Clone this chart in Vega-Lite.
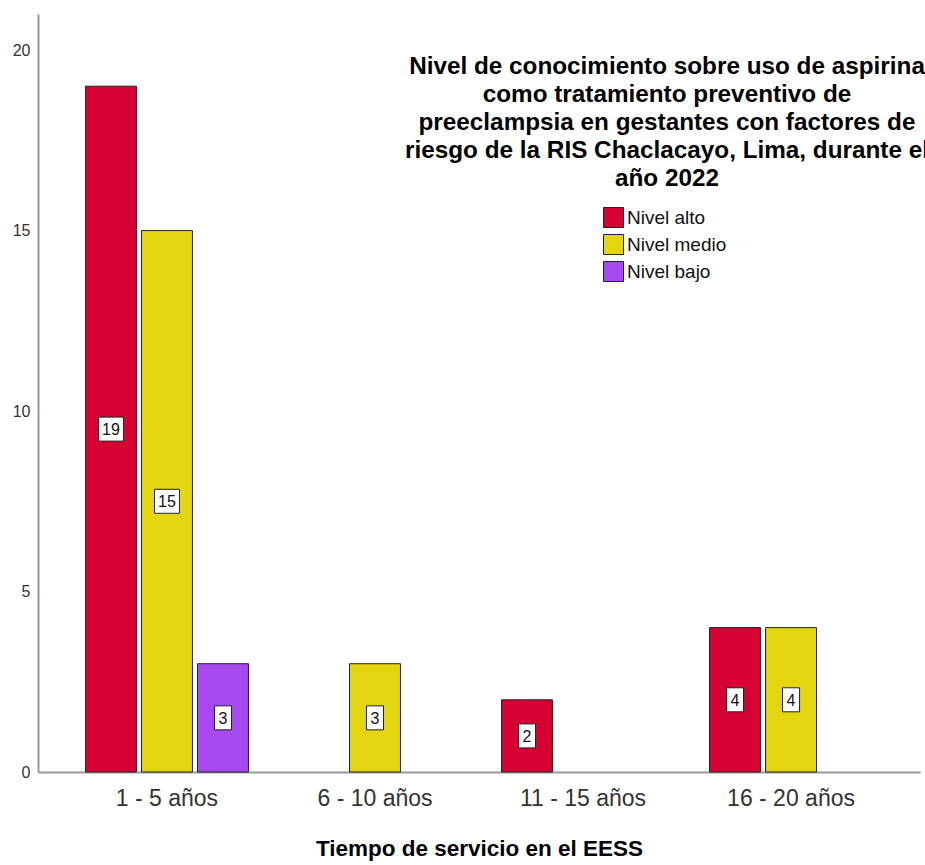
{
  "$schema": "https://vega.github.io/schema/vega-lite/v6.json",
  "autosize": "none",
  "width": 882,
  "height": 758,
  "padding": {"left": 38, "top": 14, "right": 5, "bottom": 93},
  "background": "white",
  "config": {"view": {"stroke": null}, "font": "Liberation Sans"},
  "title": {
    "text": ["Nivel de conocimiento sobre uso de aspirina", "como tratamiento preventivo de", "preeclampsia en gestantes con factores de", "riesgo de la RIS Chaclacayo, Lima, durante el", "año 2022"],
    "frame": "group",
    "anchor": "middle",
    "dx": 188,
    "offset": -177,
    "fontSize": 24.3,
    "fontWeight": "bold",
    "font": "Liberation Sans",
    "color": "black",
    "lineHeight": 28
  },
  "data": {
    "values": [
      {"tiempo": "1 - 5 años", "nivel": "Nivel alto", "n": 19},
      {"tiempo": "1 - 5 años", "nivel": "Nivel medio", "n": 15},
      {"tiempo": "1 - 5 años", "nivel": "Nivel bajo", "n": 3},
      {"tiempo": "6 - 10 años", "nivel": "Nivel medio", "n": 3},
      {"tiempo": "11 - 15 años", "nivel": "Nivel alto", "n": 2},
      {"tiempo": "16 - 20 años", "nivel": "Nivel alto", "n": 4},
      {"tiempo": "16 - 20 años", "nivel": "Nivel medio", "n": 4}
    ]
  },
  "encoding": {
    "x": {
      "field": "tiempo", "type": "nominal",
      "sort": ["1 - 5 años", "6 - 10 años", "11 - 15 años", "16 - 20 años"],
      "scale": {"paddingInner": 0, "paddingOuter": 0.12},
      "axis": {"title": "Tiempo de servicio en el EESS", "labelAngle": 0, "labelFontSize": 23, "labelColor": "#333", "labelPadding": 15, "ticks": false, "domainColor": "#999", "domainWidth": 2, "titleFontSize": 22.5, "titleFontWeight": "bold", "titleColor": "black", "titlePadding": 27}
    },
    "xOffset": {
      "field": "nivel", "type": "nominal",
      "scale": {"domain": ["Nivel alto", "Nivel medio", "Nivel bajo"], "paddingInner": 0.09, "paddingOuter": 0.402}
    }
  },
  "layer": [
    {
      "mark": {"type": "bar", "stroke": "#222", "strokeWidth": 1},
      "encoding": {
        "y": {
          "field": "n", "type": "quantitative",
          "scale": {"domain": [0, 21], "nice": false},
          "axis": {"title": null, "values": [0, 5, 10, 15, 20], "grid": false, "ticks": false, "labelFontSize": 16, "labelColor": "#333", "labelPadding": 8, "domainColor": "#999", "domainWidth": 2}
        },
        "color": {
          "field": "nivel", "type": "nominal",
          "scale": {"domain": ["Nivel alto", "Nivel medio", "Nivel bajo"], "range": ["#d60032", "#e3d50f", "#a64af0"]},
          "legend": {"title": null, "orient": "none", "legendX": 565, "legendY": 193, "symbolType": "square", "symbolSize": 400, "symbolStrokeColor": "#222", "symbolStrokeWidth": 1, "labelFontSize": 19, "labelColor": "#111", "labelOffset": 3, "rowPadding": 2}
        }
      }
    },
    {
      "transform": [{"calculate": "datum.n / 2", "as": "mid"}],
      "mark": {"type": "point", "filled": true, "fill": "white", "stroke": "#222", "strokeWidth": 1, "opacity": 1, "size": 576},
      "encoding": {
        "y": {"field": "mid", "type": "quantitative"},
        "shape": {
          "condition": {"test": "datum.n >= 10", "value": "M-1.04,-1H1.04V1H-1.04Z"},
          "value": "M-0.71,-1H0.71V1H-0.71Z"
        }
      }
    },
    {
      "transform": [{"calculate": "datum.n / 2", "as": "mid"}],
      "mark": {"type": "text", "fontSize": 16, "color": "#111", "baseline": "middle", "dy": 1},
      "encoding": {
        "y": {"field": "mid", "type": "quantitative"},
        "text": {"field": "n", "type": "quantitative"}
      }
    }
  ]
}
